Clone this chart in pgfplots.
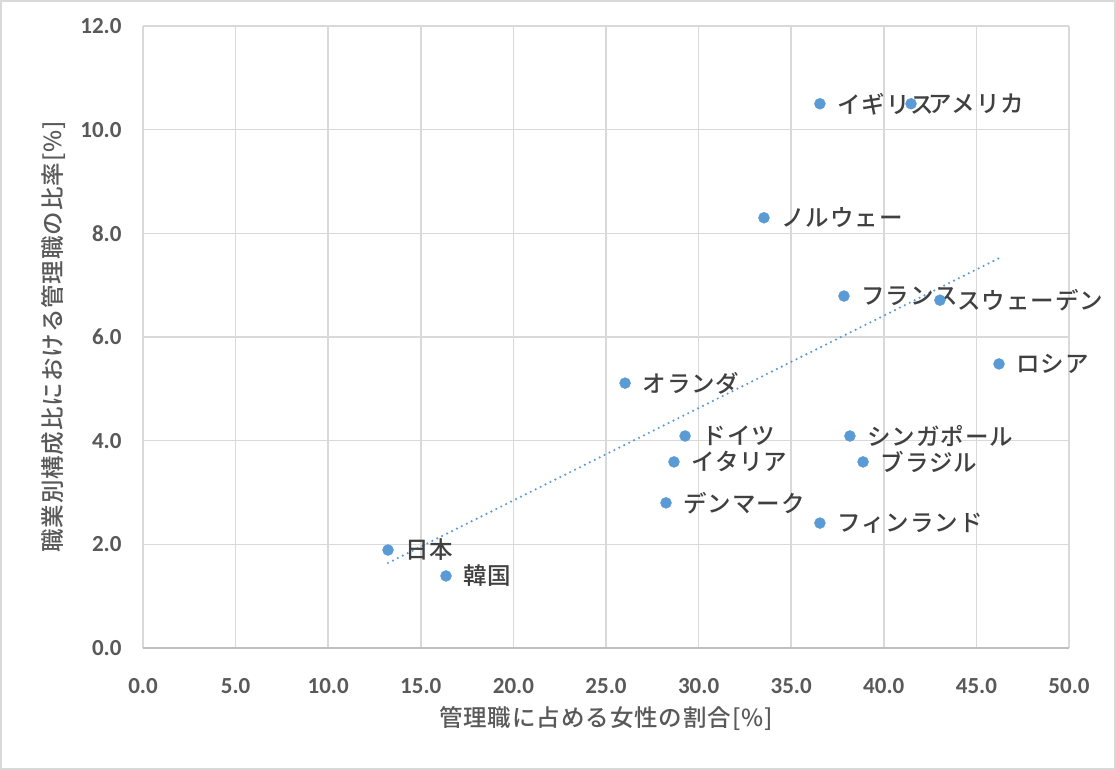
\documentclass[border=0pt]{standalone}
\usepackage{fontspec}
\usepackage{pgfplots}
\pgfplotsset{compat=1.18}
\setmainfont{Carlito}
\newfontfamily\cjk{Noto Sans CJK JP}[BoldFont={Noto Sans CJK JP Medium}]
\definecolor{pt}{HTML}{5B9BD5}
\definecolor{grd}{HTML}{D9D9D9}
\definecolor{tk}{HTML}{595959}
\definecolor{lb}{HTML}{404040}
\begin{document}
\begin{tikzpicture}
\fill[white] (0pt,0pt) rectangle (1116pt,770pt);
\draw[grd,line width=2pt] (1pt,1pt) rectangle (1115pt,769pt);
\begin{axis}[
  at={(143pt,122pt)}, anchor=south west,
  width=926pt, height=622pt, scale only axis,
  xmin=0, xmax=50, ymin=0, ymax=12,
  xtick={0,5,...,50}, ytick={0,2,...,12},
  grid=major, major grid style={grd,line width=1.6pt},
  axis line style={draw=none}, tick style={draw=none},
  /pgf/number format/.cd, fixed, fixed zerofill, precision=1, assume math mode=true,
  /pgfplots/.cd,
  ticklabel style={font=\fontsize{23}{26}\selectfont\bfseries, text=tk},
  xticklabel style={yshift=-27pt},
  yticklabel style={xshift=-18pt},
  xlabel={\cjk\addfontfeature{LetterSpace=4} 管理職に占める女性の割合[\%]},
  ylabel={\cjk\addfontfeature{LetterSpace=4} 職業別構成比における管理職の比率[\%]},
  label style={font=\fontsize{23.5}{26}\selectfont\bfseries, text=tk},
  xlabel style={yshift=-6pt},
  ylabel style={yshift=8pt},
  clip=false,
]
\draw[color=black!25,line width=1.6pt] (axis cs:0,0) -- (axis cs:50,0);
\addplot[pt, line width=2.4pt, line cap=round, dash pattern=on 0pt off 5.5pt] coordinates {(13.23,1.64) (46.22,7.52)};
\addplot[only marks, mark=*, mark size=5.5pt, mark options={draw=pt,fill=pt},
  point meta=explicit symbolic,
  nodes near coords,
  nodes near coords style={anchor=west, xshift=14pt, text=lb, font=\fontsize{23.5}{26}\selectfont\cjk\bfseries\addfontfeature{LetterSpace=4}},
] table[meta=label] {
x y label
36.55 10.50 イギリス
41.47 10.50 アメリカ
33.53 8.30 ノルウェー
37.85 6.79 フランス
43.03 6.71 スウェーデン
46.22 5.48 ロシア
26.03 5.11 オランダ
29.27 4.09 ドイツ
38.17 4.09 シンガポール
28.67 3.59 イタリア
38.88 3.59 ブラジル
28.24 2.80 デンマーク
36.55 2.41 フィンランド
13.23 1.89 日本
16.36 1.39 韓国
};
\end{axis}
\end{tikzpicture}
\end{document}
